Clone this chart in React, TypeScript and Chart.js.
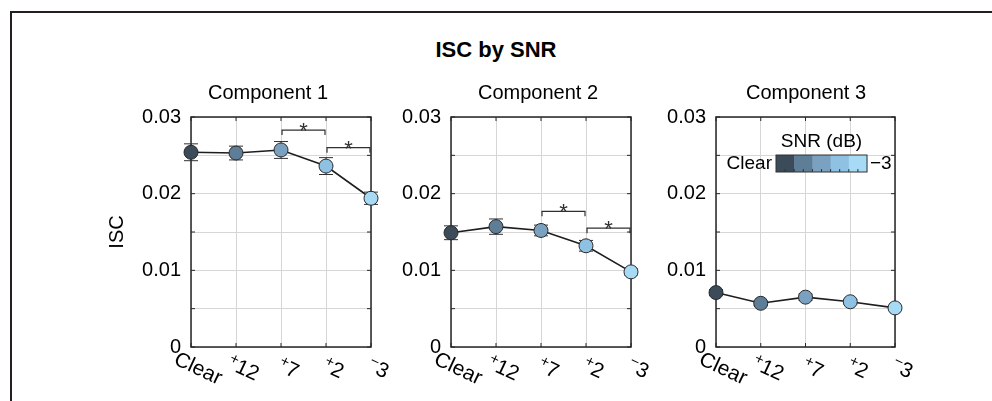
import React, { useEffect, useRef } from 'react';
import { Chart, registerables } from 'chart.js';

Chart.register(...registerables);

// ---------- data ----------
const snrLabels = ['Clear', '+12', '+7', '+2', '−3'];
const snrColors = ['#3b4b59', '#5e7d96', '#7ba1c0', '#8fc1e2', '#a7dbf5'];
const panelTitles = ['Component 1', 'Component 2', 'Component 3'];

const iscComp1 = [0.0254, 0.0253, 0.0257, 0.0236, 0.0194];
const errComp1 = [0.0011, 0.0009, 0.0011, 0.0011, 0.0008];
const iscComp2 = [0.0149, 0.0157, 0.0152, 0.0132, 0.0098];
const errComp2 = [0.0009, 0.001, 0.0007, 0.0007, 0.0004];
const iscComp3 = [0.0071, 0.0057, 0.0065, 0.0059, 0.0051];
const errComp3 = [0.0004, 0.0003, 0.0004, 0.0003, 0.0003];

const sigComp1 = [
  { from: 2, to: 3, level: 0.0283 },
  { from: 3, to: 4, level: 0.026 },
];
const sigComp2 = [
  { from: 2, to: 3, level: 0.0177 },
  { from: 3, to: 4, level: 0.0155 },
];
const sigComp3: { from: number; to: number; level: number }[] = [];

const yMin = 0;
const yMax = 0.03;
const yGridStep = 0.005;
const yLabelStep = 0.01;
const legendTitle = 'SNR (dB)';
const legendEnds = ['Clear', '−3'];
const yAxisTitle = 'ISC';
const mainTitle = 'ISC by SNR';

// ---------- styling / layout ----------
const FONT = '"Liberation Sans", Arial, Helvetica, sans-serif';
Chart.defaults.font.family = FONT;
const GRID = '#d6d6d6';
const AXIS = '#262626';

const panels = [
  { values: iscComp1, errors: errComp1, sig: sigComp1, left: 95, width: 346, padL: 10, padR: 10, yw: 86, rw: 60, ytitle: true, legend: false },
  { values: iscComp2, errors: errComp2, sig: sigComp2, left: 385, width: 306, padL: 10, padR: 10, yw: 56, rw: 50, ytitle: false, legend: false },
  { values: iscComp3, errors: errComp3, sig: sigComp3, left: 650, width: 312, padL: 10, padR: 10, yw: 56, rw: 57, ytitle: false, legend: true },
];
const CANVAS_TOP = 70;
const CANVAS_H = 331;

function drawSignedLabel(ctx: CanvasRenderingContext2D, lab: string) {
  const mainFont = `21px ${FONT}`;
  const signFont = `15px ${FONT}`;
  let sign = '';
  let rest = lab;
  if (/^[+\-−]/.test(lab)) {
    sign = lab[0];
    rest = lab.slice(1);
  }
  ctx.font = signFont;
  const sw = sign ? ctx.measureText(sign).width : 0;
  ctx.font = mainFont;
  const rw = ctx.measureText(rest).width;
  const x0 = -(sw + rw) / 2;
  ctx.textBaseline = 'middle';
  ctx.textAlign = 'left';
  if (sign) {
    ctx.font = signFont;
    ctx.fillText(sign, x0, -5);
  }
  ctx.font = mainFont;
  ctx.fillText(rest, x0 + sw, 0);
}

const panelPlugin = {
  id: 'panelDecor',
  beforeDatasetsDraw(chart: any, _args: any, opts: any) {
    const { ctx, chartArea } = chart;
    const { left, right, top, bottom } = chartArea;
    const xs = chart.scales.x;
    const ys = chart.scales.y;
    ctx.save();
    ctx.strokeStyle = AXIS;
    ctx.lineWidth = 1.5;
    ctx.strokeRect(left, top, right - left, bottom - top);
    ctx.lineWidth = 1;
    ctx.beginPath();
    for (let v = yMin; v <= yMax + 1e-9; v += yGridStep) {
      const y = ys.getPixelForValue(v);
      ctx.moveTo(left, y);
      ctx.lineTo(left + 4, y);
      ctx.moveTo(right, y);
      ctx.lineTo(right - 4, y);
    }
    chart.data.labels.forEach((_l: string, i: number) => {
      const x = xs.getPixelForValue(i);
      ctx.moveTo(x, bottom);
      ctx.lineTo(x, bottom - 4);
      ctx.moveTo(x, top);
      ctx.lineTo(x, top + 4);
    });
    ctx.stroke();
    const vals = chart.data.datasets[0].data as number[];
    ctx.strokeStyle = '#303030';
    ctx.lineWidth = 1;
    vals.forEach((v, i) => {
      const e = opts.errors[i];
      const x = xs.getPixelForValue(i);
      const y1 = ys.getPixelForValue(v + e);
      const y2 = ys.getPixelForValue(v - e);
      ctx.beginPath();
      ctx.moveTo(x, y1);
      ctx.lineTo(x, y2);
      ctx.moveTo(x - 7, y1);
      ctx.lineTo(x + 7, y1);
      ctx.moveTo(x - 7, y2);
      ctx.lineTo(x + 7, y2);
      ctx.stroke();
    });
    ctx.restore();
  },
  afterDatasetsDraw(chart: any, _args: any, opts: any) {
    const { ctx } = chart;
    const xs = chart.scales.x;
    const ys = chart.scales.y;
    ctx.save();
    ctx.strokeStyle = '#303030';
    ctx.fillStyle = '#303030';
    ctx.lineWidth = 1.2;
    (opts.sig || []).forEach((s: any) => {
      const x1 = xs.getPixelForValue(s.from) + 1;
      const x2 = xs.getPixelForValue(s.to) - 1;
      const y = ys.getPixelForValue(s.level);
      ctx.beginPath();
      ctx.moveTo(x1, y + 5);
      ctx.lineTo(x1, y);
      ctx.lineTo(x2, y);
      ctx.lineTo(x2, y + 5);
      ctx.stroke();
      ctx.font = `22px ${FONT}`;
      ctx.textAlign = 'center';
      ctx.textBaseline = 'alphabetic';
      ctx.fillText('*', (x1 + x2) / 2, y + 8);
    });
    ctx.restore();
  },
  afterDraw(chart: any, _args: any, opts: any) {
    const { ctx, chartArea } = chart;
    const xs = chart.scales.x;
    ctx.save();
    ctx.fillStyle = '#000';
    chart.data.labels.forEach((lab: string, i: number) => {
      const x = xs.getPixelForValue(i);
      ctx.save();
      ctx.translate(x + 7, chartArea.bottom + 22);
      ctx.rotate((25 * Math.PI) / 180);
      drawSignedLabel(ctx, lab);
      ctx.restore();
    });
    if (opts.legend) {
      const cbL = chartArea.left + 60;
      const cbT = chartArea.top + 38;
      const cbW = 91;
      const cbH = 17;
      const n = snrColors.length;
      snrColors.forEach((c, k) => {
        ctx.fillStyle = c;
        ctx.fillRect(cbL + (k * cbW) / n, cbT, cbW / n + 0.5, cbH);
      });
      ctx.strokeStyle = '#333';
      ctx.lineWidth = 1;
      ctx.strokeRect(cbL, cbT, cbW, cbH);
      ctx.beginPath();
      for (let k = 0; k < 2 * n - 1; k++) {
        const x = cbL + ((k + 1) * cbW) / (2 * n);
        ctx.moveTo(x, cbT + cbH);
        ctx.lineTo(x, cbT + cbH - 3);
      }
      ctx.stroke();
      ctx.fillStyle = '#000';
      ctx.font = `19px ${FONT}`;
      ctx.textBaseline = 'middle';
      ctx.textAlign = 'right';
      ctx.fillText(legendEnds[0], cbL - 4, cbT + cbH / 2);
      ctx.textAlign = 'left';
      ctx.fillText(legendEnds[1], cbL + cbW + 3, cbT + cbH / 2);
      ctx.textAlign = 'center';
      ctx.fillText(legendTitle, cbL + cbW / 2, cbT - 13);
    }
    ctx.restore();
  },
};

function Panel({ idx }: { idx: number }) {
  const ref = useRef<HTMLCanvasElement>(null);
  const p = panels[idx];
  useEffect(() => {
    if (!ref.current) return;
    const chart = new Chart(ref.current, {
      type: 'line',
      data: {
        labels: snrLabels,
        datasets: [
          {
            data: p.values,
            borderColor: '#1e1e1e',
            borderWidth: 1.6,
            pointRadius: 7,
            pointBackgroundColor: snrColors,
            pointBorderColor: '#2a2a2a',
            pointBorderWidth: 1,
            tension: 0,
            clip: false as any,
            yAxisID: 'y',
          },
        ],
      },
      options: {
        responsive: false,
        animation: false,
        events: [],
        layout: { padding: { left: p.padL, right: p.padR, top: 0, bottom: 0 } },
        plugins: {
          legend: { display: false },
          tooltip: { enabled: false },
          title: {
            display: true,
            text: panelTitles[idx],
            color: '#000',
            font: { size: 20, weight: 'normal' as any, family: FONT },
            padding: { top: 11, bottom: 12 },
          },
          panelDecor: { errors: p.errors, sig: p.sig, legend: p.legend },
        } as any,
        scales: {
          x: {
            type: 'category',
            offset: false,
            grid: { color: GRID, drawTicks: false, offset: false },
            border: { display: false },
            ticks: { display: false },
            afterFit: (s: any) => {
              s.height = 54;
            },
          },
          y: {
            position: 'left',
            min: yMin,
            max: yMax,
            grid: { color: GRID, drawTicks: false },
            border: { display: false },
            ticks: {
              stepSize: yGridStep,
              padding: 10,
              color: '#000',
              font: { size: 20, family: FONT },
              autoSkip: false,
              callback: (value: any) => {
                const k = Math.round(Number(value) * 1000);
                const step = Math.round(yLabelStep * 1000);
                return k % step === 0 ? String(k / 1000) : '';
              },
            },
            title: {
              display: p.ytitle,
              text: yAxisTitle,
              color: '#000',
              font: { size: 20, family: FONT },
              padding: { top: 0, bottom: 0 },
            },
            afterFit: (s: any) => {
              s.width = p.yw;
            },
          },
          yPad: {
            position: 'right',
            min: yMin,
            max: yMax,
            grid: { display: false },
            border: { display: false },
            ticks: { display: false },
            afterFit: (s: any) => {
              s.width = p.rw;
            },
          },
        },
      },
      plugins: [panelPlugin as any],
    });
    return () => chart.destroy();
  }, []);
  return (
    <canvas
      ref={ref}
      width={p.width}
      height={CANVAS_H}
      style={{ position: 'absolute', left: p.left, top: CANVAS_TOP, width: p.width, height: CANVAS_H }}
    />
  );
}

export default function App() {
  return (
    <div
      style={{
        position: 'absolute',
        left: 0,
        top: 0,
        width: 992,
        height: 401,
        background: '#fff',
        overflow: 'hidden',
      }}
    >
      <div
        style={{
          position: 'absolute',
          left: 10,
          top: 11,
          width: 990,
          height: 400,
          borderTop: '2px solid #231f20',
          borderLeft: '2px solid #231f20',
        }}
      />
      <div
        style={{
          position: 'absolute',
          left: 0,
          top: 38,
          width: 992,
          textAlign: 'center',
          font: `bold 22px ${FONT}`,
          lineHeight: '24px',
          color: '#000',
        }}
      >
        {mainTitle}
      </div>
      {panels.map((_p, i) => (
        <Panel key={i} idx={i} />
      ))}
    </div>
  );
}
